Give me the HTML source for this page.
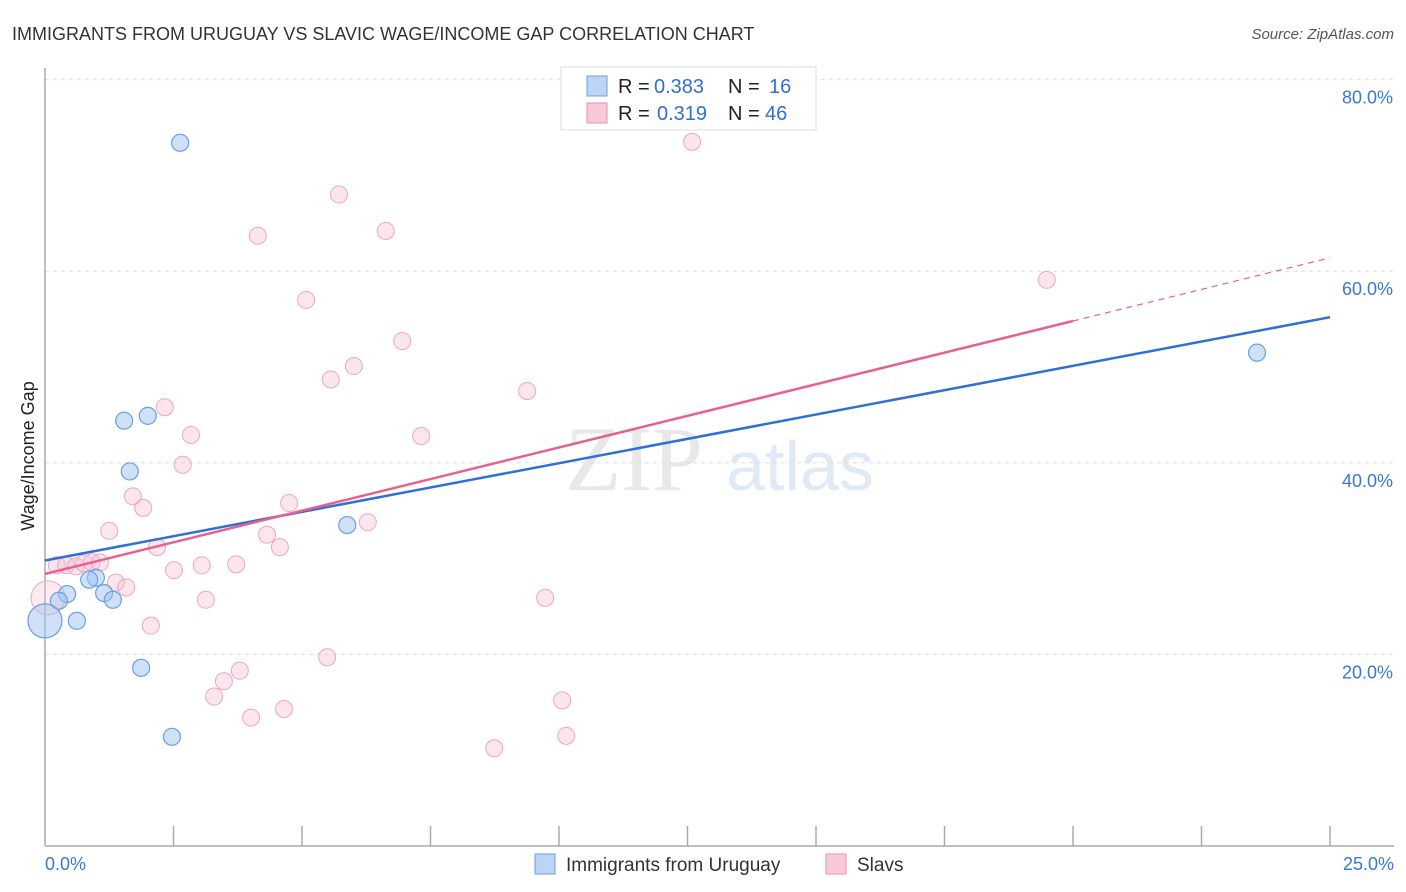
<!DOCTYPE html>
<html><head><meta charset="utf-8"><style>
body{margin:0;background:#fff;font-family:"Liberation Sans",sans-serif}
svg{display:block}
</style></head><body>
<svg width="1406" height="892" viewBox="0 0 1406 892" id="chart">
<text x="12" y="40" font-size="18" fill="#333">IMMIGRANTS FROM URUGUAY VS SLAVIC WAGE/INCOME GAP CORRELATION CHART</text>
<text x="1394" y="39" font-size="15" fill="#555" text-anchor="end" font-style="italic">Source: ZipAtlas.com</text>
<text x="634" y="490" font-size="92" fill="#e8e8e8" font-family="Liberation Serif,serif" text-anchor="middle">ZIP</text>
<text x="800" y="490" font-size="70" fill="#e0e9f6" text-anchor="middle">atlas</text>
<g id="grid"></g>
<g id="axes"></g>
<g id="pts"></g>
<g id="trend"></g>
<text x="34" y="456" font-size="18" fill="#222" text-anchor="middle" transform="rotate(-90 34 456)">Wage/Income Gap</text>
<g>
<rect x="561" y="67" width="255" height="63" fill="#fff" stroke="#ddd"/>
<rect x="587" y="76" width="20" height="20" fill="#bcd5f5" stroke="#6a9fe0"/>
<text x="618" y="93" font-size="20" fill="#222">R =</text>
<text x="654" y="93" font-size="20" fill="#2f6fd6">0.383</text>
<text x="728" y="93" font-size="20" fill="#222">N =</text>
<text x="769" y="93" font-size="20" fill="#2f6fd6">16</text>
<rect x="587" y="103" width="20" height="20" fill="#f9c9d8" stroke="#e890ad"/>
<text x="618" y="120" font-size="20" fill="#222">R =</text>
<text x="657" y="120" font-size="20" fill="#2f6fd6">0.319</text>
<text x="728" y="120" font-size="20" fill="#222">N =</text>
<text x="765" y="120" font-size="20" fill="#2f6fd6">46</text>
</g>
<g>
<rect x="535" y="854" width="20" height="20" fill="#bcd5f5" stroke="#6a9fe0"/>
<text x="566" y="871" font-size="19" fill="#333">Immigrants from Uruguay</text></g>
<g>
<rect x="826" y="854" width="20" height="20" fill="#f9c9d8" stroke="#e890ad"/>
<text x="857" y="871" font-size="19" fill="#333">Slavs</text></g>
</svg>
<script>
const xTicks=[0,2.5,5,7.5,10,12.5,15,17.5,20,22.5,25];
const yTicks=[20,40,60,80];
const blueX=[2.63,0.43,0.27,0.99,0.86,1.15,1.32,0.62,0.0,1.54,2.00,1.65,1.87,2.47,5.88,23.58];
const blueY=[73.4,26.3,25.6,28.0,27.8,26.4,25.7,23.5,23.5,44.4,44.9,39.1,18.6,11.4,33.5,51.5];
const blueR=[8.5,8.5,8.5,8.5,8.5,8.5,8.5,8.5,17,8.5,8.5,8.5,8.5,8.5,8.5,8.5];
const pinkX=[12.59,5.72,4.14,6.63,19.49,5.08,6.95,6.01,5.56,9.38,2.33,2.84,7.32,2.68,1.71,1.91,4.75,6.28,1.25,4.32,4.57,2.18,2.51,3.05,3.72,0.23,0.41,0.60,0.76,0.91,1.07,1.38,1.58,3.13,9.73,2.06,5.49,3.79,3.48,3.29,10.06,4.01,4.65,8.74,10.14,0.06];
const pinkY=[73.5,68.0,63.7,64.2,59.1,57.0,52.7,50.1,48.7,47.5,45.8,42.9,42.8,39.8,36.5,35.3,35.8,33.8,32.9,32.5,31.2,31.2,28.8,29.3,29.4,29.3,29.3,29.2,29.5,29.6,29.6,27.5,27.0,25.7,25.9,23.0,19.7,18.3,17.2,15.6,15.2,13.4,14.3,10.2,11.5,25.9];
const blueTrend=[29.8,1.016];
const pinkTrend=[28.4,1.32];
const pinkSolidEnd=20;
const NS='http://www.w3.org/2000/svg';
const X=v=>45+v/25*1285, Y=v=>846-v*9.58;
function mk(p,t,a){const e=document.createElementNS(NS,t);for(const k in a)e.setAttribute(k,a[k]);document.getElementById(p).appendChild(e);return e;}
yTicks.forEach(t=>{
 const l=mk('grid','line',{x1:45,x2:1394,y1:Y(t),y2:Y(t),stroke:'#ddd','stroke-dasharray':'4 4'});
 
 
 const tx=mk('grid','text',{x:1393,y:Y(t)+24,'font-size':18,fill:'#3a78d6','text-anchor':'end'});
 tx.textContent=t.toFixed(1)+'%';
 
 
});
mk('axes','line',{x1:45,x2:45,y1:68,y2:846,stroke:'#aaa','stroke-width':1.5});
mk('axes','line',{x1:45,x2:1394,y1:846,y2:846,stroke:'#aaa','stroke-width':1.5});
xTicks.forEach((t,i)=>{if(i>0){const l=mk('axes','line',{x1:X(t),x2:X(t),y1:826,y2:846,stroke:'#aaa','stroke-width':1.5});
 
 }});
[[0,'start',45],[25,'end',1394]].forEach(([v,a,x])=>{const tx=mk('axes','text',{x:x,y:870,'font-size':18,fill:'#3a78d6','text-anchor':a});tx.textContent=v.toFixed(1)+'%';
 
 });
pinkX.forEach((v,i)=>{const big=i==pinkX.length-1;const c=mk('pts','circle',{cx:X(v),cy:Y(pinkY[i]),r:big?17:8.5,fill:big?'rgba(248,190,208,0.3)':'rgba(248,190,208,0.38)',stroke:'#eda7bf','stroke-width':1});
 
 });
blueX.forEach((v,i)=>{const c=mk('pts','circle',{cx:X(v),cy:Y(blueY[i]),r:blueR[i],fill:'rgba(160,196,240,0.5)',stroke:'#6a9fe0','stroke-width':1.2});
 
 });
const bl=mk('trend','line',{x1:X(0),y1:Y(blueTrend[0]),x2:X(25),y2:Y(blueTrend[0]+25*blueTrend[1]),stroke:'#2f6fd6','stroke-width':2.5});


const pl=mk('trend','line',{x1:X(0),y1:Y(pinkTrend[0]),x2:X(pinkSolidEnd),y2:Y(pinkTrend[0]+pinkSolidEnd*pinkTrend[1]),stroke:'#e8608e','stroke-width':2.5});


const pd=mk('trend','line',{x1:X(pinkSolidEnd),y1:Y(pinkTrend[0]+pinkSolidEnd*pinkTrend[1]),x2:X(25),y2:Y(pinkTrend[0]+25*pinkTrend[1]),stroke:'#e8608e','stroke-width':1.2,'stroke-dasharray':'6 5'});


</script>
</body></html>
